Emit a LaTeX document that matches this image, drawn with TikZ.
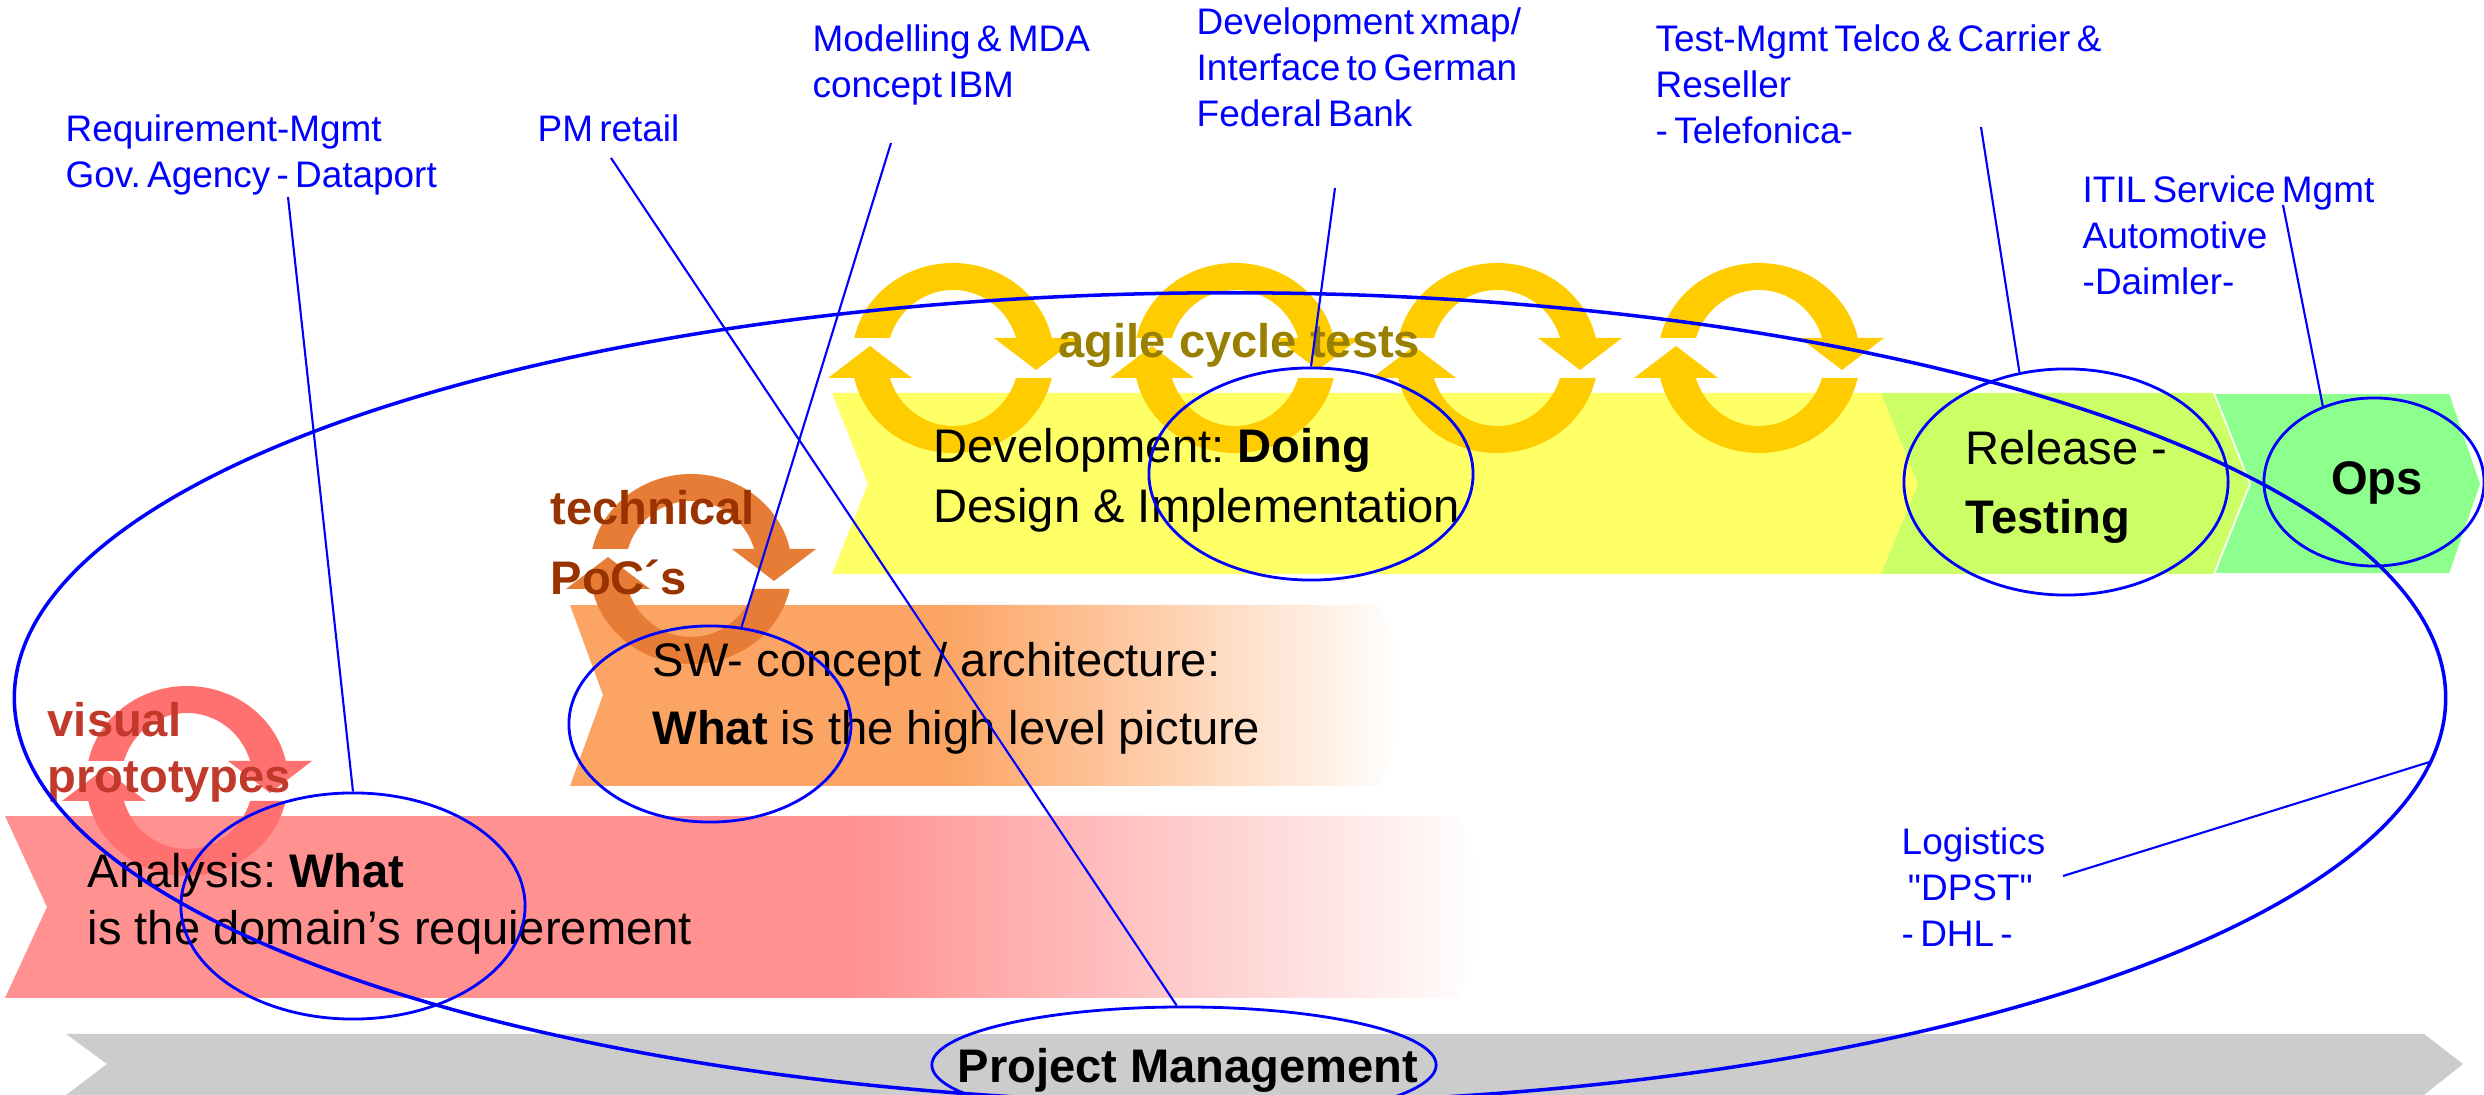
\documentclass[tikz,border=0pt]{standalone}
\usepackage{fontspec}
\setmainfont{Liberation Sans}
\usetikzlibrary{shapes.geometric}
\frenchspacing

\definecolor{anared}{RGB}{255,145,145}
\definecolor{archorange}{RGB}{252,164,99}
\definecolor{devyellow}{RGB}{255,255,102}
\definecolor{relime}{RGB}{204,255,102}
\definecolor{opsgreen}{RGB}{140,255,140}
\definecolor{pmgrey}{RGB}{204,204,204}
\definecolor{loopyellow}{RGB}{255,204,0}
\definecolor{looporange}{RGB}{230,124,53}
\definecolor{loopred}{RGB}{255,112,112}
\definecolor{agileolive}{RGB}{153,128,0}
\definecolor{pocbrown}{RGB}{153,51,0}
\definecolor{protored}{RGB}{192,57,43}

% several lines, baseline on the first one
\newcommand{\textrows}[1]{\begin{tabular}[t]{@{}l@{}}#1\end{tabular}}
\newcommand{\bodysize}[1]{\fontsize{13.4pt}{#1}\selectfont}

% circular double arrow: upper arm turns down on the right,
% lower arm turns up on the left
\newcommand{\cyclearrows}[2]{%
  \begin{scope}[shift={(#1)}]
    \fill[#2] (-98.7,-20) arc[start angle=192.15, end angle=347.85, x radius=101, y radius=95]
      -- (125,-20) -- (83,12) -- (41,-20) -- (63.1,-20)
      arc[start angle=342.9, end angle=197.1, x radius=66, y radius=68] -- cycle;
    \fill[#2] (98.7,20) arc[start angle=12.15, end angle=167.85, x radius=101, y radius=95]
      -- (-125,20) -- (-83,-12) -- (-41,20) -- (-63.1,20)
      arc[start angle=162.9, end angle=17.1, x radius=66, y radius=68] -- cycle;
  \end{scope}}

\begin{document}
\begin{tikzpicture}[x=0.01cm, y=-0.01cm]

\tikzset{hoop/.style = {ellipse, draw=blue, line width=0.8pt, inner sep=0pt}}
\tikzset{lead/.style = {draw=blue, line width=0.6pt}}
\tikzset{tag/.style = {blue, inner sep=0pt, anchor=base west,
  font={\fontsize{10.5pt}{12.95pt}\selectfont\spaceskip=0.17em plus 0.05em\relax}}}
\tikzset{phase/.style = {inner sep=0pt, anchor=base west}}

\useasboundingbox (0,0) rectangle (2484,1095);

% bars
\fill[pmgrey] (66,1034) -- (2424,1034) -- (2463,1064) -- (2424,1095) -- (66,1095) -- (107,1064) -- cycle;

\begin{scope}
  \clip (5,816) -- (1460,816) -- (1490,907) -- (1460,998) -- (5,998) -- (47,907) -- cycle;
  \fill[anared] (0,816) rectangle (852,998);
  \shade[left color=anared, right color=white] (850,816) rectangle (1480,998);
\end{scope}

\begin{scope}
  \clip (570,605) -- (1380,605) -- (1410,695) -- (1380,786) -- (570,786) -- (603,695) -- cycle;
  \fill[archorange] (560,605) rectangle (947,786);
  \shade[left color=archorange, right color=white] (945,605) rectangle (1400,786);
\end{scope}

\fill[devyellow] (832,393) -- (1881,393) -- (1918,484) -- (1881,574) -- (832,574) -- (868,484) -- cycle;
\fill[relime] (1881,393) -- (2214,393) -- (2250,484) -- (2214,574) -- (1881,574) -- (1918,484) -- cycle;
\filldraw[fill=opsgreen, draw=white, line width=0.5pt] (2214,393) -- (2450,393) -- (2481,484) -- (2450,574) -- (2214,574) -- (2250,484) -- cycle;

% loops
\cyclearrows{187,781}{loopred}
\cyclearrows{691,569}{looporange}
\foreach \cx in {953,1235,1497,1759}
  \cyclearrows{\cx,358}{loopyellow};

% loop captions
\node[phase, text=protored, font={\bodysize{15.9pt}\bfseries}] (proto) at (47,737) {\textrows{visual\\prototypes}};
\node[phase, text=pocbrown, font={\bodysize{19.9pt}\bfseries}] (poc) at (550,525) {\textrows{technical\\PoC´s}};
\node[phase, text=agileolive, font={\bodysize{16pt}\bfseries}] (agile) at (1058,358) {agile cycle tests};

% phase texts
\node[phase, font={\bodysize{16.2pt}}] (analysis) at (87,888) {\textrows{Analysis: \textbf{What}\\is the domain’s requierement}};
\node[phase, font={\bodysize{19.3pt}}] (concept) at (652,677) {\textrows{SW- concept / architecture:\\\textbf{What} is the high level picture}};
\node[phase, font={\bodysize{16.8pt}}] (develop) at (933,463) {\textrows{Development: \textbf{Doing}\\Design \& Implementation}};
\node[phase, font={\bodysize{19.6pt}}] (release) at (1965,465) {\textrows{Release -\\\textbf{Testing}}};
\node[phase, anchor=base, font={\bodysize{16pt}\bfseries}] (ops) at (2377,495) {Ops};
\node[phase, anchor=base, font={\bodysize{16pt}\bfseries}] (pm) at (1188,1083) {Project Management};

% project labels
\node[tag] (reqlbl) at (65,142) {\textrows{Requirement-Mgmt\\Gov. Agency - Dataport}};
\node[tag] (pmlbl) at (537,142) {PM retail};
\node[tag] (mdalbl) at (812,52) {\textrows{Modelling \& MDA\\concept IBM}};
\node[tag] (xmaplbl) at (1196,35) {\textrows{Development xmap/\\Interface to German\\Federal Bank}};
\node[tag] (telcolbl) at (1655,52) {\textrows{Test-Mgmt Telco \& Carrier \&\\Reseller\\- Telefonica-}};
\node[tag] (itillbl) at (2082,203) {\textrows{ITIL Service Mgmt\\Automotive\\-Daimler-}};
\node[tag] (dhllbl) at (1901,855) {\textrows{Logistics\\\ \textquotedbl DPST\textquotedbl\\- DHL -}};

% ellipses
\node[hoop, line width=1pt, minimum width=24.3cm, minimum height=8.1cm] (bigell) at (1230,698) {};
\node[hoop, minimum width=3.44cm, minimum height=2.26cm] (anaell) at (353,906) {};
\node[hoop, minimum width=2.82cm, minimum height=1.96cm] (swell) at (710,724) {};
\node[hoop, minimum width=3.24cm, minimum height=2.12cm] (devell) at (1311,474) {};
\node[hoop, minimum width=3.24cm, minimum height=2.26cm] (relell) at (2066,482) {};
\node[hoop, minimum width=2.2cm, minimum height=1.68cm] (opsell) at (2374,482) {};
\node[hoop, minimum width=5.04cm, minimum height=1.16cm] (pmell) at (1184,1065) {};

% line ends below the labels
\coordinate (reqfoot) at (288,197);
\coordinate (pmfoot) at (611,158);
\coordinate (mdafoot) at (891,143);
\coordinate (xmapfoot) at (1335,188);
\coordinate (telcofoot) at (1981,127);
\coordinate (itilfoot) at (2283,205);
\coordinate (dhlfoot) at (2063,876);

% leader lines
\draw[lead] (reqfoot) -- (anaell.north);
\draw[lead] (pmfoot) -- (pmell.97);
\draw[lead] (mdafoot) -- (swell.72.6);
\draw[lead] (xmapfoot) -- (devell.north);
\draw[lead] (telcofoot) -- (relell.113);
\draw[lead] (itilfoot) -- (opsell.124);
\draw[lead] (dhlfoot) -- (bigell.-3.1);

\end{tikzpicture}
\end{document}
